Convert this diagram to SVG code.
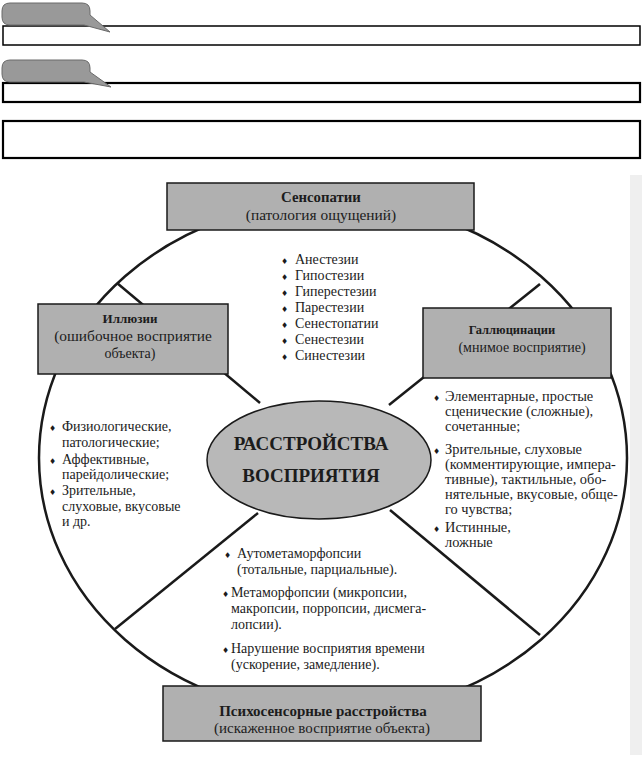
<svg xmlns="http://www.w3.org/2000/svg" width="642" height="759" viewBox="0 0 642 759">
<style>
.t{font-family:"Liberation Serif","DejaVu Serif",serif;font-size:14px;fill:#1c1c1c}
.b{font-weight:bold}
.c{text-anchor:middle}
.r{font-size:14.4px}
.bul{font-family:"DejaVu Sans",sans-serif;font-size:8px}
.box{fill:#b0b0b0;stroke:#1a1a1a;stroke-width:1.5}
.ln{stroke:#1a1a1a;stroke-width:2.5;fill:none}
.bar{fill:#ffffff;stroke:#000000}
.bub{fill:#999999;stroke:#6a6a6a;stroke-width:1}
</style>
<rect x="0" y="0" width="642" height="759" fill="#ffffff"/>
<g id="header">
<rect class="bar" x="3" y="26" width="637" height="19" stroke-width="1.5"/>
<path class="bub" d="M10,3 H82 Q90,3 90,11 V15 L110,32 L84,25 H10 Q2,25 2,17 V11 Q2,3 10,3 Z"/>
<rect class="bar" x="3" y="83" width="637" height="19" stroke-width="2.2"/>
<path class="bub" d="M10,60 H82 Q90,60 90,68 V72 L111,87 L84,82 H10 Q2,82 2,74 V68 Q2,60 10,60 Z"/>
<rect class="bar" x="3" y="121" width="637" height="37" stroke-width="2.2"/>
</g>
<rect x="630" y="175" width="12" height="580" fill="#efefef"/>
<g id="connectors">
<ellipse class="ln" cx="333" cy="458" rx="294" ry="257"/>
<line class="ln" x1="117" y1="283" x2="260" y2="403"/>
<line class="ln" x1="540" y1="284" x2="389" y2="405"/>
<line class="ln" x1="258" y1="513" x2="115" y2="629"/>
<line class="ln" x1="390" y1="510" x2="540" y2="635"/>
</g>
<g id="senso">
<rect class="box" x="167" y="183" width="307" height="47"/>
<text class="t b c" x="321" y="202" style="font-size:14.8px">Сенсопатии</text>
<text class="t c" x="321" y="220" style="font-size:15.4px">(патология ощущений)</text>
</g>
<g id="senso-list">
<text class="t" x="281" y="264"><tspan class="bul">♦</tspan><tspan x="295">Анестезии</tspan></text>
<text class="t" x="281" y="280"><tspan class="bul">♦</tspan><tspan x="295">Гипостезии</tspan></text>
<text class="t" x="281" y="296"><tspan class="bul">♦</tspan><tspan x="295">Гиперестезии</tspan></text>
<text class="t" x="281" y="312"><tspan class="bul">♦</tspan><tspan x="295">Парестезии</tspan></text>
<text class="t" x="281" y="328"><tspan class="bul">♦</tspan><tspan x="295">Сенестопатии</tspan></text>
<text class="t" x="281" y="344"><tspan class="bul">♦</tspan><tspan x="295">Сенестезии</tspan></text>
<text class="t" x="281" y="360"><tspan class="bul">♦</tspan><tspan x="295">Синестезии</tspan></text>
</g>
<g id="illusions">
<rect class="box" x="38" y="304" width="190" height="70"/>
<text class="t b c" x="130" y="323" style="font-size:13px">Иллюзии</text>
<text class="t c" x="133" y="341" style="font-size:15.4px">(ошибочное восприятие</text>
<text class="t c" x="130" y="358">объекта)</text>
</g>
<g id="illusions-list">
<text class="t" x="49" y="431"><tspan class="bul">♦</tspan><tspan x="62">Физиологические,</tspan></text>
<text class="t" x="62" y="447">патологические;</text>
<text class="t" x="49" y="464"><tspan class="bul">♦</tspan><tspan x="62">Аффективные,</tspan></text>
<text class="t" x="62" y="479">парейдолические;</text>
<text class="t" x="49" y="495"><tspan class="bul">♦</tspan><tspan x="62">Зрительные,</tspan></text>
<text class="t" x="62" y="511">слуховые, вкусовые</text>
<text class="t" x="62" y="526">и др.</text>
</g>
<g id="halluc">
<rect class="box" x="423" y="308" width="188" height="70"/>
<text class="t b c" x="512" y="334" style="font-size:12.5px">Галлюцинации</text>
<text class="t c" x="522" y="352">(мнимое восприятие)</text>
</g>
<g id="halluc-list">
<text class="t r" x="433" y="401"><tspan class="bul">♦</tspan><tspan x="445">Элементарные, простые</tspan></text>
<text class="t r" x="445" y="416">сценические (сложные),</text>
<text class="t r" x="445" y="431">сочетанные;</text>
<text class="t r" x="433" y="454"><tspan class="bul">♦</tspan><tspan x="445">Зрительные, слуховые</tspan></text>
<text class="t r" x="445" y="469">(комментирующие, импера-</text>
<text class="t r" x="445" y="484">тивные), тактильные, обо-</text>
<text class="t r" x="445" y="499">нятельные, вкусовые, обще-</text>
<text class="t r" x="445" y="514">го чувства;</text>
<text class="t r" x="433" y="532"><tspan class="bul">♦</tspan><tspan x="445">Истинные,</tspan></text>
<text class="t r" x="445" y="547">ложные</text>
</g>
<g id="center">
<ellipse cx="319" cy="460" rx="112" ry="59" fill="#b8b8b8" stroke="#1a1a1a" stroke-width="1.5"/>
<text class="t b c" x="311" y="450" style="font-size:19px">РАССТРОЙСТВА</text>
<text class="t b c" x="311" y="482" style="font-size:19px">ВОСПРИЯТИЯ</text>
</g>
<g id="psycho-list">
<text class="t" x="224" y="558"><tspan class="bul">♦</tspan><tspan x="237">Аутометаморфопсии</tspan></text>
<text class="t" x="237" y="574">(тотальные, парциальные).</text>
<text class="t" x="222" y="597"><tspan class="bul">♦</tspan><tspan x="231">Метаморфопсии (микропсии,</tspan></text>
<text class="t" x="231" y="613">макропсии, порропсии, дисмега-</text>
<text class="t" x="231" y="629">лопсии).</text>
<text class="t" x="222" y="653"><tspan class="bul">♦</tspan><tspan x="231">Нарушение восприятия времени</tspan></text>
<text class="t" x="231" y="669">(ускорение, замедление).</text>
</g>
<g id="psycho">
<rect class="box" x="163" y="686" width="318" height="55"/>
<text class="t b c" x="323" y="716" style="font-size:15px">Психосенсорные расстройства</text>
<text class="t c" x="322" y="733" style="font-size:15px">(искаженное восприятие объекта)</text>
</g>
</svg>
